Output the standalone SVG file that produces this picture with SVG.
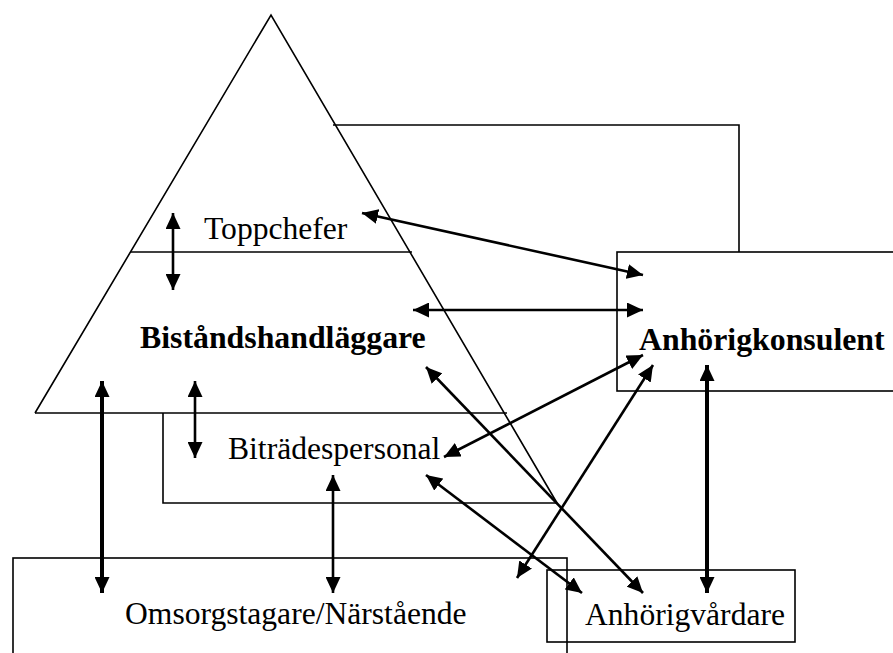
<svg xmlns="http://www.w3.org/2000/svg" width="893" height="653" viewBox="0 0 893 653">
<style>
.sh{fill:none;stroke:#000;stroke-width:1.6}
.t{font-family:"Liberation Serif","Times New Roman",serif;font-size:31.6px;fill:#000}
.b{font-weight:bold;font-size:31.8px}
.a{stroke:#000;stroke-width:2.6;fill:none;marker-start:url(#ah);marker-end:url(#ah)}
.k{stroke-width:4}
</style>
<defs>
<marker id="ah" markerUnits="userSpaceOnUse" viewBox="0 0 16 15" refX="16" refY="7.5" markerWidth="16" markerHeight="15" orient="auto-start-reverse">
<path d="M0,0 L16,7.5 L0,15 z" fill="#000"/>
</marker>
</defs>
<rect width="893" height="653" fill="#fff"/>
<g id="pyramid">
<path class="sh" d="M35,413 L271,15 L557,503"/>
<path class="sh" d="M35,413 H507"/>
<path class="sh" d="M130,252 H412"/>
<text class="t" x="204" y="239">Toppchefer</text>
<text class="t b" x="140" y="348">Biståndshandläggare</text>
</g>
<g id="bitradespersonal">
<path class="sh" d="M163,413 V503 H557"/>
<text class="t" x="228" y="459">Biträdespersonal</text>
</g>
<g id="anhorigkonsulent">
<rect class="sh" x="617" y="252" width="290" height="139"/>
<path class="sh" d="M333,125 H739 V252"/>
<text class="t b" x="639" y="350">Anhörigkonsulent</text>
</g>
<g id="omsorgstagare">
<rect class="sh" x="13" y="558" width="554" height="120"/>
<text class="t" x="125" y="624">Omsorgstagare/Närstående</text>
</g>
<g id="anhorigvardare">
<rect class="sh" x="547" y="570" width="248" height="72"/>
<text class="t" x="585" y="625">Anhörigvårdare</text>
</g>
<g id="connectors">
<line class="a" x1="173" y1="213" x2="173" y2="290"/>
<line class="a" x1="362" y1="213" x2="643" y2="275"/>
<line class="a" x1="413" y1="310" x2="643" y2="310"/>
<line class="a" x1="444" y1="457" x2="643" y2="355"/>
<line class="a" x1="517" y1="578" x2="653" y2="365"/>
<line class="a" x1="426" y1="367" x2="643" y2="593"/>
<line class="a" x1="426" y1="475" x2="582" y2="593"/>
<line class="a k" x1="707" y1="365" x2="707" y2="593"/>
<line class="a k" x1="102" y1="381" x2="102" y2="593"/>
<line class="a" x1="195" y1="381" x2="195" y2="458"/>
<line class="a" x1="333" y1="475" x2="333" y2="593"/>
</g>
</svg>
